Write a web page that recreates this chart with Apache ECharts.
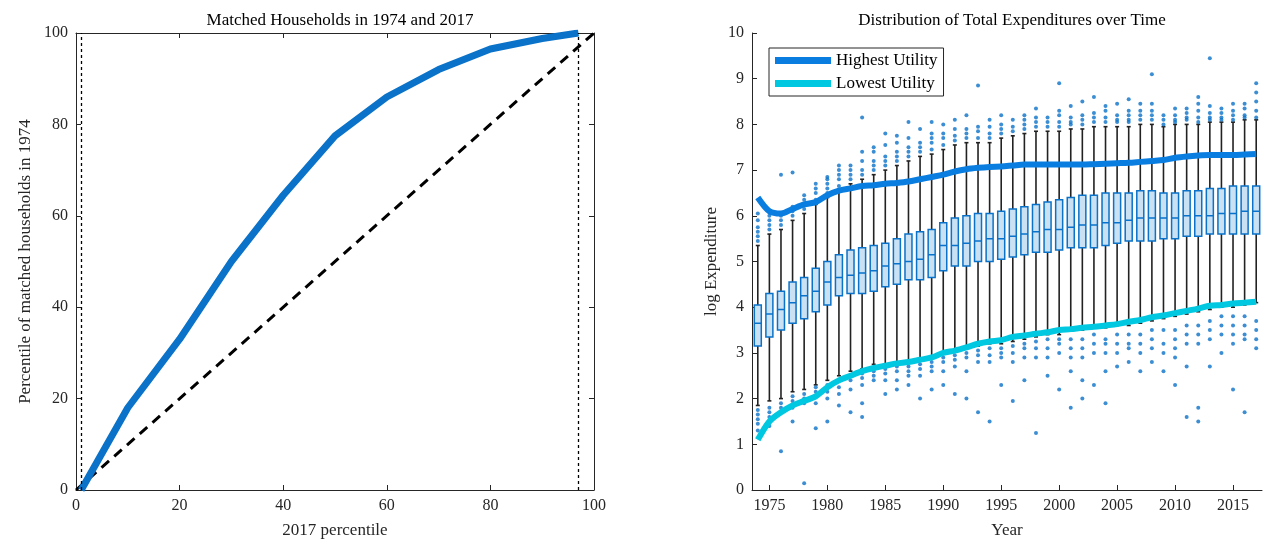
<!DOCTYPE html>
<html><head><meta charset="utf-8">
<script src="https://cdn.jsdelivr.net/npm/echarts@6/dist/echarts.min.js"></script>
<style>html,body{margin:0;background:#fff}#c{width:1272px;height:548px}</style>
</head><body><div id="c"></div>
<script>
// Left chart data
const pctX = [1, 10, 20, 30, 40, 50, 60, 70, 80, 90, 97];
const pctY = [0, 18, 33, 50, 64.5, 77.5, 86, 92, 96.5, 98.8, 100];
const diagX = [0, 100];
const vLines = [1, 97];
// Right chart data
const years = [];
for (let y = 1974; y <= 2017; y++) years.push(String(y));
const boxData = [ // [whiskerLow, Q1, median, Q3, whiskerHigh]
[1.85,3.15,3.65,4.05,5.35],[1.95,3.35,3.85,4.3,5.6],[2.0,3.5,3.95,4.35,5.7],[2.15,3.65,4.1,4.55,5.9],
[2.2,3.75,4.25,4.65,6.05],[2.3,3.9,4.35,4.85,6.25],[2.4,4.05,4.55,5.0,6.4],[2.5,4.25,4.65,5.15,6.55],
[2.6,4.3,4.7,5.25,6.7],[2.65,4.3,4.75,5.3,6.8],[2.75,4.35,4.8,5.35,6.9],[2.75,4.45,4.9,5.4,7.0],
[2.8,4.5,4.95,5.5,7.1],[2.8,4.6,5.0,5.6,7.2],[2.85,4.6,5.05,5.65,7.3],[2.9,4.65,5.15,5.7,7.35],
[3.0,4.8,5.35,5.85,7.45],[3.05,4.9,5.35,5.95,7.55],[3.1,4.9,5.4,6.0,7.6],[3.15,5.0,5.45,6.05,7.6],
[3.2,5.0,5.5,6.05,7.6],[3.2,5.05,5.5,6.1,7.7],[3.25,5.1,5.55,6.15,7.75],[3.3,5.15,5.6,6.2,7.8],
[3.35,5.2,5.65,6.25,7.85],[3.4,5.2,5.7,6.3,7.85],[3.4,5.25,5.7,6.35,7.85],[3.5,5.3,5.75,6.4,7.9],
[3.5,5.3,5.8,6.45,7.9],[3.55,5.3,5.8,6.45,7.95],[3.55,5.35,5.85,6.5,7.95],[3.6,5.4,5.85,6.5,7.95],
[3.6,5.45,5.9,6.5,7.95],[3.65,5.45,5.95,6.55,8.0],[3.7,5.45,5.95,6.55,8.0],[3.75,5.5,5.95,6.5,7.95],
[3.8,5.5,5.95,6.5,8.0],[3.85,5.55,6.0,6.55,8.0],[3.9,5.55,6.0,6.55,8.0],[3.95,5.6,6.0,6.6,8.05],
[4.0,5.6,6.05,6.6,8.05],[4.0,5.6,6.05,6.65,8.05],[4.05,5.6,6.1,6.65,8.1],[4.1,5.6,6.1,6.65,8.1]];
const highU = [6.4,6.1,6.05,6.15,6.25,6.3,6.45,6.55,6.6,6.65,6.67,6.7,6.72,6.75,6.8,6.85,6.9,6.97,7.02,7.05,7.07,7.08,7.1,7.12,7.12,7.12,7.12,7.12,7.12,7.13,7.14,7.15,7.16,7.18,7.2,7.22,7.27,7.3,7.32,7.33,7.33,7.33,7.34,7.35];
const lowU = [1.1,1.5,1.7,1.85,1.95,2.05,2.25,2.4,2.5,2.6,2.67,2.72,2.77,2.8,2.85,2.9,3.0,3.05,3.12,3.2,3.25,3.28,3.35,3.38,3.42,3.45,3.5,3.52,3.55,3.57,3.6,3.63,3.68,3.72,3.78,3.82,3.87,3.92,3.97,4.03,4.05,4.08,4.1,4.12];
// outliers per year: upper values, lower values
const outUp = [
[5.45,5.55,5.65,5.75,5.9,6.05],[5.7,5.8,5.9,6.0,6.1],[5.8,5.9,6.0,6.9],[6.0,6.1,6.2,6.95],
[6.15,6.25,6.35,6.45],[6.35,6.5,6.6,6.7],[6.5,6.6,6.7,6.8,6.85],[6.65,6.8,6.9,7.0,7.1],
[6.8,6.9,7.0,7.1],[6.9,7.0,7.2,7.4,8.15],[7.0,7.1,7.2,7.4,7.5],[7.1,7.2,7.3,7.55,7.8],
[7.2,7.3,7.4,7.6,7.75],[7.3,7.4,7.5,7.7,8.05],[7.4,7.5,7.6,7.9],[7.45,7.6,7.7,7.8,8.05],
[7.55,7.7,7.8,8.0],[7.65,7.75,7.9,8.1],[7.7,7.8,7.9,8.2],[7.7,7.85,7.95,8.85],
[7.7,7.8,7.95,8.1],[7.8,7.9,8.0,8.2],[7.85,7.95,8.1],[7.9,8.0,8.1,8.2],
[7.95,8.05,8.15,8.35],[7.95,8.05,8.15],[7.95,8.05,8.2,8.3,8.9],[8.0,8.05,8.15,8.4],
[8.0,8.1,8.2,8.5],[8.05,8.15,8.25,8.6],[8.05,8.15,8.3,8.4],[8.05,8.1,8.2,8.45],
[8.05,8.1,8.2,8.3,8.55],[8.1,8.2,8.3,8.45],[8.1,8.2,8.3,8.45,9.1],[8.0,8.1,8.2],
[8.05,8.1,8.2,8.35],[8.1,8.15,8.25,8.35],[8.05,8.15,8.3,8.45,8.6],[8.1,8.15,8.25,8.4,9.45],
[8.1,8.15,8.25,8.35],[8.1,8.2,8.3,8.45],[8.15,8.2,8.35,8.45],[8.15,8.3,8.5,8.7,8.9]];
const outLo = [
[1.3,1.45,1.55,1.65,1.75],[1.5,1.6,1.7,1.8,1.4],[1.7,1.8,1.9,0.85],[1.8,1.95,2.05,1.5],
[1.9,2.0,2.1,0.15],[1.9,2.05,2.15,2.25,1.35],[2.0,2.15,2.3,1.5],[2.1,2.25,2.4,1.85],
[2.2,2.4,2.5,1.7],[2.3,2.45,2.55,1.9,1.6],[2.4,2.5,2.6],[2.4,2.55,2.65,2.1],
[2.4,2.6,2.7,2.2],[2.5,2.6,2.7,2.3],[2.5,2.65,2.75,2.0],[2.6,2.7,2.8,2.2],
[2.6,2.8,2.9,2.3],[2.7,2.85,2.95,2.1],[2.6,2.9,3.0,2.0],[2.8,2.95,3.05,1.7],
[2.8,2.95,3.1,1.5],[2.9,3.0,3.1,2.3],[2.8,3.0,3.15,1.95],[2.9,3.1,3.2,2.4],
[2.9,3.1,3.25,1.25],[2.9,3.1,3.3,2.5],[3.0,3.2,3.3,2.2],[2.9,3.1,3.3,2.6,1.8],
[2.9,3.1,3.3,2.4,2.0],[3.0,3.2,3.4,2.3],[3.0,3.2,3.3,1.9,2.6],[3.0,3.2,3.4,2.7],
[3.1,3.2,3.4,2.8],[3.0,3.2,3.4,2.6],[3.1,3.3,3.5,2.8],[3.0,3.2,3.5,2.6],
[3.1,3.3,3.5,2.9,2.3],[3.2,3.4,3.6,1.6,2.7],[3.2,3.4,3.6,1.5,1.8],[3.3,3.5,3.7,2.7],
[3.4,3.6,3.8,3.0],[3.4,3.6,3.8,3.2,2.2],[3.4,3.6,3.8,3.3,1.7],[3.1,3.3,3.5,3.7]];
const outPts = [];
outUp.forEach((a, i) => a.forEach(v => outPts.push([i, v])));
outLo.forEach((a, i) => a.forEach(v => outPts.push([i, v])));

const F = 'Liberation Serif';
const axBase = {
  axisLine: {show: true, onZero: false, lineStyle: {color: '#262626', width: 1}},
  axisTick: {show: true, inside: true, length: 5, lineStyle: {color: '#262626'}},
  axisLabel: {color: '#262626', fontFamily: F, fontSize: 16},
  splitLine: {show: false},
  nameTextStyle: {color: '#262626', fontFamily: F, fontSize: 17}
};
const chart = echarts.init(document.getElementById('c'));
chart.setOption({
  animation: false,
  title: [
    {text: 'Matched Households in 1974 and 2017', left: 335, top: 7, textAlign: 'center', textStyle: {fontFamily: F, fontSize: 17, fontWeight: 'normal', color: '#000'}},
    {text: 'Distribution of Total Expenditures over Time', left: 1007, top: 7, textAlign: 'center', textStyle: {fontFamily: F, fontSize: 17, fontWeight: 'normal', color: '#000'}}
  ],
  legend: {
    left: 769, top: 48, orient: 'vertical', itemGap: 6, itemWidth: 56, itemHeight: 7,
    padding: [4, 6, 4, 6], borderColor: '#262626', borderWidth: 1, backgroundColor: '#fff',
    textStyle: {fontFamily: F, fontSize: 17, color: '#000'},
    data: [{name: 'Highest Utility', icon: 'rect'}, {name: 'Lowest Utility', icon: 'rect'}]
  },
  grid: [
    {left: 76, top: 33, width: 518, height: 457},
    {left: 752, top: 33, width: 510, height: 457}
  ],
  xAxis: [
    Object.assign({}, axBase, {gridIndex: 0, type: 'value', min: 0, max: 100, interval: 20, name: '2017 percentile', nameLocation: 'middle', nameGap: 32}),
    Object.assign({}, axBase, {gridIndex: 0, type: 'value', min: 0, max: 100, interval: 20, position: 'top', axisLabel: {show: false}}),
    Object.assign({}, axBase, {gridIndex: 1, type: 'category', data: years, boundaryGap: true, name: 'Year', nameLocation: 'middle', nameGap: 32,
      axisTick: {show: true, inside: true, length: 5, alignWithLabel: true, interval: (i, v) => (+v) % 5 === 0, lineStyle: {color: '#262626'}},
      axisLabel: {color: '#262626', fontFamily: F, fontSize: 16, interval: (i, v) => (+v) % 5 === 0}})
  ],
  yAxis: [
    Object.assign({}, axBase, {gridIndex: 0, type: 'value', min: 0, max: 100, interval: 20, name: 'Percentile of matched households in 1974', nameLocation: 'middle', nameGap: 42}),
    Object.assign({}, axBase, {gridIndex: 0, type: 'value', min: 0, max: 100, interval: 20, position: 'right', axisLabel: {show: false}}),
    Object.assign({}, axBase, {gridIndex: 1, type: 'value', min: 0, max: 10, interval: 1, name: 'log Expenditure', nameLocation: 'middle', nameGap: 32})
  ],
  series: [
    {type: 'line', xAxisIndex: 0, yAxisIndex: 0, data: diagX.map(v => [v, v]), symbol: 'none', lineStyle: {color: '#000', width: 3, type: [10, 7]}, silent: true},
    {type: 'line', xAxisIndex: 0, yAxisIndex: 0, data: [], symbol: 'none',
      markLine: {silent: true, symbol: 'none', label: {show: false}, lineStyle: {color: '#000', width: 1.3, type: [3, 3]}, data: vLines.map(v => ({xAxis: v}))}},
    {type: 'line', xAxisIndex: 0, yAxisIndex: 0, data: pctX.map((x, i) => [x, pctY[i]]), symbol: 'none', lineStyle: {color: '#0a72c8', width: 7}},
    {type: 'custom', xAxisIndex: 2, yAxisIndex: 2, data: boxData.map((b, i) => [i, b[0], b[4]]), z: 1,
      renderItem: (p, api) => {
        const a = api.coord([api.value(0), api.value(1)]), b = api.coord([api.value(0), api.value(2)]);
        return {type: 'group', children: [
          {type: 'line', shape: {x1: a[0], y1: a[1], x2: b[0], y2: b[1]}, style: {stroke: '#222', lineWidth: 1.6}},
          {type: 'line', shape: {x1: a[0] - 2, y1: a[1], x2: a[0] + 2, y2: a[1]}, style: {stroke: '#222', lineWidth: 1.6}},
          {type: 'line', shape: {x1: b[0] - 2, y1: b[1], x2: b[0] + 2, y2: b[1]}, style: {stroke: '#222', lineWidth: 1.6}}
        ]};
      }},
    {type: 'boxplot', xAxisIndex: 2, yAxisIndex: 2, z: 3, boxWidth: [7, 7],
      data: boxData.map(b => [b[1], b[1], b[2], b[3], b[3]]),
      itemStyle: {color: '#c9e1f3', borderColor: '#0a72c8', borderWidth: 1.5}},
    {type: 'scatter', xAxisIndex: 2, yAxisIndex: 2, z: 2, data: outPts, symbolSize: 4, itemStyle: {color: '#0a72c8'}},
    {name: 'Highest Utility', type: 'line', xAxisIndex: 2, yAxisIndex: 2, z: 5, data: highU, symbol: 'none', smooth: 0.3, color: '#0a7de0', lineStyle: {width: 6}},
    {name: 'Lowest Utility', type: 'line', xAxisIndex: 2, yAxisIndex: 2, z: 5, data: lowU, symbol: 'none', smooth: 0.3, color: '#00c8e0', lineStyle: {width: 6}}
  ]
});
</script></body></html>
